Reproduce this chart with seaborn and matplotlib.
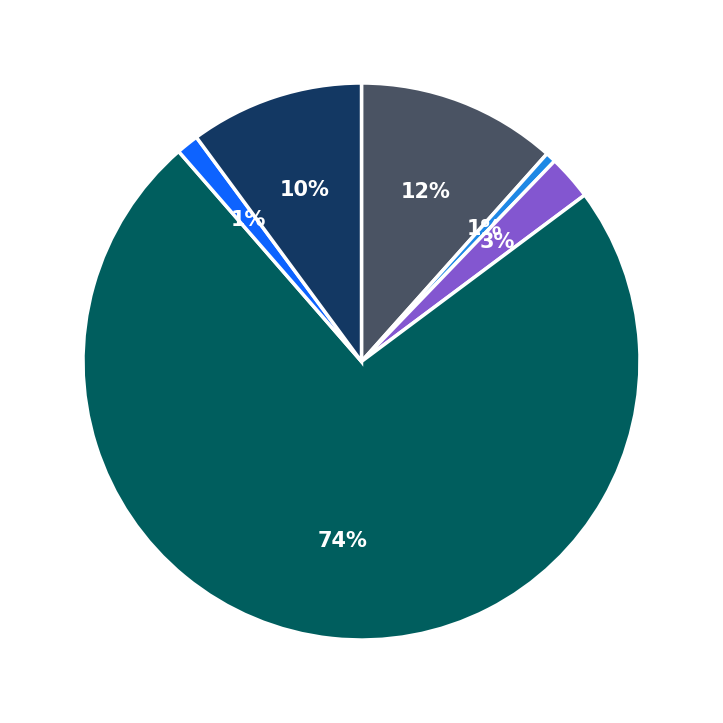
import matplotlib
matplotlib.use("Agg")
import matplotlib.pyplot as plt
import seaborn as sns

sns.set_theme(style="white")
plt.rcParams['font.family'] = ['DejaVu Sans']

labels = ["A", "B", "C", "D", "E", "F"]
values = [11.6, 0.6, 2.6, 73.8, 1.3, 10.1]
colors = ["#4a5363", "#1e88e5", "#8356d0", "#005e5e", "#0d63ff", "#133863"]

fig, ax = plt.subplots(figsize=(7.23, 7.23), dpi=100)
wedges, texts, autotexts = ax.pie(
    values, colors=colors, startangle=90, counterclock=False,
    autopct="%.0f%%", pctdistance=0.65,
    wedgeprops=dict(edgecolor="white", linewidth=2.5),
    textprops=dict(color="white", fontsize=15, fontweight="bold"),
)
ax.set_aspect("equal")
plt.subplots_adjust(left=0.0185, right=0.9815, bottom=0.0185, top=0.9815)
fig.savefig("out.png", dpi=100)
